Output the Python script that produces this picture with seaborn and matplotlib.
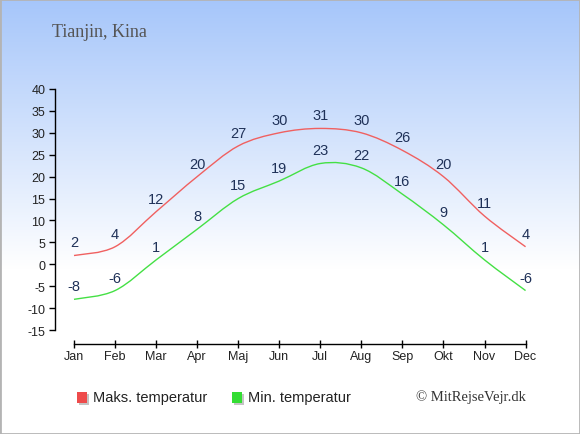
import numpy as np
import matplotlib
matplotlib.use('Agg')
import matplotlib.pyplot as plt
import seaborn as sns
from matplotlib.path import Path
from matplotlib.patches import PathPatch, Rectangle

# chart data
months = ['Jan', 'Feb', 'Mar', 'Apr', 'Maj', 'Jun', 'Jul', 'Aug', 'Sep', 'Okt', 'Nov', 'Dec']
max_temp = [2, 4, 12, 20, 27, 30, 31, 30, 26, 20, 11, 4]
min_temp = [-8, -6, 1, 8, 15, 19, 23, 22, 16, 9, 1, -6]
y_ticks = [-15, -10, -5, 0, 5, 10, 15, 20, 25, 30, 35, 40]
series_names = ['Maks. temperatur', 'Min. temperatur']

sns.set_style('white')
plt.rcParams['font.family'] = ['Liberation Sans', 'DejaVu Sans']
plt.rcParams['axes.unicode_minus'] = False

W, H = 580, 435
fig = plt.figure(figsize=(W / 100, H / 100), dpi=100)

# background gradient + border
bg = fig.add_axes([0, 0, 1, 1], zorder=0)
t = np.clip(np.arange(H) / 270.0, 0, 1)[:, None, None]
top = np.array([166, 198, 250]) / 255.0
img = top * (1 - t) + np.ones(3) * t
img = np.repeat(img, 2, axis=1)
bg.imshow(img, aspect='auto', extent=[0, 1, 0, 1])
bg.add_patch(Rectangle((0, 0), 1, 1, fill=False, edgecolor='#b4b4b4', lw=2,
                       transform=bg.transAxes))
bg.set_xlim(0, 1)
bg.set_ylim(0, 1)
bg.axis('off')

ax = fig.add_axes([55 / W, 104 / H, 480 / W, 241 / H], zorder=1)
ax.set_facecolor('none')
x = np.arange(len(months))


def smooth_path(xs, ys):
    # catmull-rom style bezier through the data points
    pts = np.column_stack([xs, ys]).astype(float)
    verts = [pts[0]]
    codes = [Path.MOVETO]
    n = len(pts)
    for i in range(n - 1):
        p0 = pts[max(i - 1, 0)]
        p1 = pts[i]
        p2 = pts[i + 1]
        p3 = pts[min(i + 2, n - 1)]
        c1 = p1 + (p2 - p0) / 6.0
        c2 = p2 - (p3 - p1) / 6.0
        verts += [c1, c2, p2]
        codes += [Path.CURVE4] * 3
    return Path(verts, codes)


for vals, col in [(max_temp, '#f06060'), (min_temp, '#44e044')]:
    ax.add_patch(PathPatch(smooth_path(x, vals), fill=False, edgecolor=col, lw=1.0))
    for xi, v in zip(x, vals):
        ax.annotate(str(v), (xi, v), xytext=(0, 9.4), textcoords='offset points',
                    ha='center', va='center', fontsize=10.5, color='#1f3158')

ax.set_xlim(-0.463, 11.23)
ax.set_ylim(-15, 40)
ax.set_xticks(x)
ax.set_xticklabels(months)
ax.set_yticks(y_ticks)

for s in ['top', 'right']:
    ax.spines[s].set_visible(False)
ax.spines['left'].set_bounds(-15, 40)
ax.spines['bottom'].set_position(('outward', 10))
ax.spines['bottom'].set_bounds(0, 11)
for s in ['left', 'bottom']:
    ax.spines[s].set_color('black')
    ax.spines[s].set_linewidth(1)

ax.tick_params(axis='y', direction='out', length=4, width=1, pad=3,
               labelsize=9, colors='black', left=True)
ax.tick_params(axis='x', direction='inout', length=6, width=1, pad=1.5,
               labelsize=9, colors='black', bottom=True)
for lab in ax.get_xticklabels() + ax.get_yticklabels():
    lab.set_color('#222222')

# title
fig.text(52 / W, (H - 37) / H, 'Tianjin, Kina', fontsize=13, color='#555555',
         family=['Liberation Serif', 'DejaVu Serif'], va='baseline')

# legend
leg_cols = ['#ee4b4b', '#33dd33']
for name, col, x0 in zip(series_names, leg_cols, [77, 232]):
    fig.patches.append(Rectangle(((x0 + 1.5) / W, (H - 405.5) / H), 10 / W, 11 / H,
                                 facecolor='#c4c4c4', edgecolor='none',
                                 transform=fig.transFigure, zorder=2))
    fig.patches.append(Rectangle((x0 / W, (H - 404) / H), 10 / W, 11 / H,
                                 facecolor=col, edgecolor='none',
                                 transform=fig.transFigure, zorder=3))
    fig.text((x0 + 16) / W, (H - 398.5) / H, name, fontsize=10.5, color='#222222',
             va='center', ha='left')

fig.text(526 / W, (H - 397) / H, '\u00a9 MitRejseVejr.dk', fontsize=10.5, color='#333333',
         family=['Liberation Serif', 'DejaVu Serif'], va='center', ha='right')

fig.savefig('out.png', dpi=100)
